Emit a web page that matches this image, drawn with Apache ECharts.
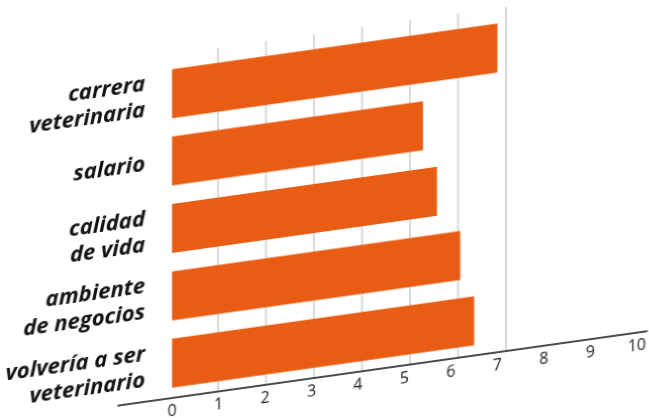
<!DOCTYPE html>
<html>
<head>
<meta charset="utf-8">
<script src="https://cdn.jsdelivr.net/npm/echarts@6/dist/echarts.min.js"></script>
<style>
html,body{margin:0;padding:0;overflow:hidden;background:#fff;width:649px;height:419px;}
#chart{width:649px;height:419px;transform:skewY(-8deg);transform-origin:172px 0;}
</style>
</head>
<body>
<div id="chart"></div>
<script>
var categories = ['carrera\nveterinaria', 'salario', 'calidad\nde vida', 'ambiente\nde negocios', 'volvería a ser\nveterinario'];
var values = [7.0, 5.4, 5.7, 6.2, 6.5];
var xTicks = [0, 10];
var gridTicks = [1, 7];

var chart = echarts.init(document.getElementById('chart'), null, {renderer: 'canvas'});
chart.setOption({
  animation: false,
  backgroundColor: '#ffffff',
  grid: [
    {left: 172, right: 11, top: 60, bottom: 21},
    {left: 218, right: 143, top: 54, bottom: 21},
    {left: 118, right: 2, top: 54, bottom: 21}
  ],
  xAxis: [
    {gridIndex: 0, type: 'value', min: xTicks[0], max: xTicks[1], interval: 1,
     axisLine: {show: false}, axisTick: {show: false}, splitLine: {show: false},
     axisLabel: {color: '#1a1a1a', fontSize: 16, fontFamily: 'Open Sans', margin: 6}},
    {gridIndex: 1, type: 'value', min: gridTicks[0], max: gridTicks[1], interval: 1,
     axisLine: {show: false}, axisTick: {show: false}, axisLabel: {show: false},
     splitLine: {show: true, lineStyle: {color: '#cdcdcd', width: 1.5}}},
    {gridIndex: 2, type: 'value', min: 0, max: 1,
     axisLine: {show: true, lineStyle: {color: '#111', width: 1.5}}, axisTick: {show: false},
     axisLabel: {show: false}, splitLine: {show: false}}
  ],
  yAxis: [
    {gridIndex: 0, type: 'category', data: categories, inverse: true,
     axisLine: {show: false}, axisTick: {show: false}, splitLine: {show: false},
     axisLabel: {color: '#111', fontSize: 22, fontWeight: 'bold', fontStyle: 'italic',
                 fontFamily: 'Open Sans', lineHeight: 26, margin: 27, align: 'right'}},
    {gridIndex: 1, type: 'value', show: false},
    {gridIndex: 2, type: 'value', show: false}
  ],
  series: [
    {type: 'bar', xAxisIndex: 0, yAxisIndex: 0, data: values, barWidth: 49,
     itemStyle: {color: '#E95C13'}, z: 5}
  ]
});
</script>
</body>
</html>
